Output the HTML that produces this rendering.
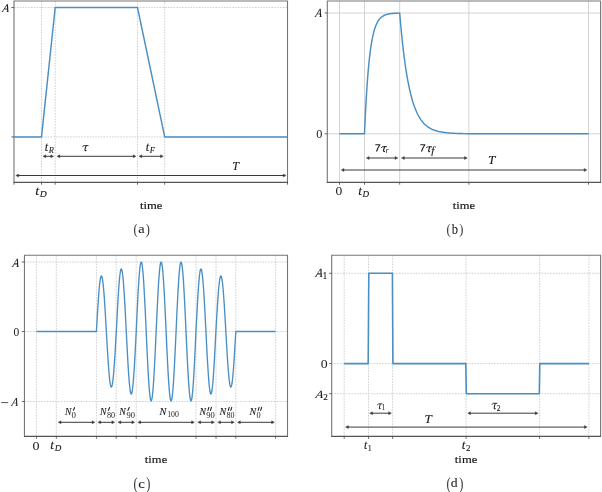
<!DOCTYPE html>
<html><head><meta charset="utf-8"><style>
html,body{margin:0;padding:0;background:#fff;width:602px;height:492px;overflow:hidden;}
svg{display:block;will-change:transform;}
text{font-family:"Liberation Serif",serif;stroke:#1a1a1a;stroke-width:0.12px;} text.thin{stroke-width:0;fill:#333;} text.mid{stroke-width:0.06px;} text.bold{stroke-width:0.2px;} text.b7{stroke-width:0.5px;} text.lt{stroke-width:0px;} text.la{stroke-width:0.1px;}
</style></head><body>
<svg width="602" height="492" viewBox="0 0 602 492">
<line x1="41.5" y1="1" x2="41.5" y2="182.3" stroke="#c4c4c4" stroke-width="0.8" stroke-dasharray="1.6 1.2"/>
<line x1="55.2" y1="1" x2="55.2" y2="182.3" stroke="#c4c4c4" stroke-width="0.8" stroke-dasharray="1.6 1.2"/>
<line x1="137.5" y1="1" x2="137.5" y2="182.3" stroke="#c4c4c4" stroke-width="0.8" stroke-dasharray="1.6 1.2"/>
<line x1="164.7" y1="1" x2="164.7" y2="182.3" stroke="#c4c4c4" stroke-width="0.8" stroke-dasharray="1.6 1.2"/>
<line x1="14" y1="7.5" x2="287.5" y2="7.5" stroke="#c4c4c4" stroke-width="0.8" stroke-dasharray="1.6 1.2"/>
<line x1="14" y1="136.9" x2="287.5" y2="136.9" stroke="#c4c4c4" stroke-width="0.8" stroke-dasharray="1.6 1.2"/>
<path d="M14,182.3 L14,1 L287.5,1 L287.5,182.3" fill="none" stroke="#767676" stroke-width="1.1"/>
<line x1="13.5" y1="182.3" x2="288.0" y2="182.3" stroke="#555" stroke-width="1.3" />
<line x1="11.4" y1="7.5" x2="14" y2="7.5" stroke="#555" stroke-width="0.9" />
<line x1="11.4" y1="136.9" x2="14" y2="136.9" stroke="#555" stroke-width="0.9" />
<line x1="14" y1="182.3" x2="14" y2="184.70000000000002" stroke="#555" stroke-width="0.9" />
<line x1="41.5" y1="182.3" x2="41.5" y2="184.70000000000002" stroke="#555" stroke-width="0.9" />
<line x1="55.2" y1="182.3" x2="55.2" y2="184.70000000000002" stroke="#555" stroke-width="0.9" />
<line x1="137.5" y1="182.3" x2="137.5" y2="184.70000000000002" stroke="#555" stroke-width="0.9" />
<line x1="164.7" y1="182.3" x2="164.7" y2="184.70000000000002" stroke="#555" stroke-width="0.9" />
<line x1="287.5" y1="182.3" x2="287.5" y2="184.70000000000002" stroke="#555" stroke-width="0.9" />
<polyline points="14.00,136.90 41.50,136.90 55.20,7.50 137.50,7.50 164.70,136.90 287.50,136.90" fill="none" stroke="#4a8fc4" stroke-width="1.45" stroke-linejoin="round"/>
<line x1="44.68" y1="156.3" x2="51.92" y2="156.3" stroke="#3a3a3a" stroke-width="1.0" />
<path d="M43,156.3 L45.8,154.8 L45.8,157.8 Z" fill="#3a3a3a" stroke="#3a3a3a" stroke-width="0.4"/>
<path d="M53.6,156.3 L50.800000000000004,154.8 L50.800000000000004,157.8 Z" fill="#3a3a3a" stroke="#3a3a3a" stroke-width="0.4"/>
<line x1="58.68" y1="156.3" x2="134.32" y2="156.3" stroke="#3a3a3a" stroke-width="1.0" />
<path d="M57,156.3 L59.8,154.8 L59.8,157.8 Z" fill="#3a3a3a" stroke="#3a3a3a" stroke-width="0.4"/>
<path d="M136,156.3 L133.2,154.8 L133.2,157.8 Z" fill="#3a3a3a" stroke="#3a3a3a" stroke-width="0.4"/>
<line x1="140.68" y1="156.3" x2="161.62" y2="156.3" stroke="#3a3a3a" stroke-width="1.0" />
<path d="M139,156.3 L141.8,154.8 L141.8,157.8 Z" fill="#3a3a3a" stroke="#3a3a3a" stroke-width="0.4"/>
<path d="M163.3,156.3 L160.5,154.8 L160.5,157.8 Z" fill="#3a3a3a" stroke="#3a3a3a" stroke-width="0.4"/>
<line x1="17.48" y1="175.5" x2="284.32" y2="175.5" stroke="#3a3a3a" stroke-width="1.0" />
<path d="M15.8,175.5 L18.6,174.0 L18.6,177.0 Z" fill="#3a3a3a" stroke="#3a3a3a" stroke-width="0.4"/>
<path d="M286,175.5 L283.2,174.0 L283.2,177.0 Z" fill="#3a3a3a" stroke="#3a3a3a" stroke-width="0.4"/>
<line x1="339.5" y1="1" x2="339.5" y2="182.3" stroke="#cfcfcf" stroke-width="0.9" />
<line x1="364.5" y1="1" x2="364.5" y2="182.3" stroke="#cfcfcf" stroke-width="0.9" />
<line x1="399.7" y1="1" x2="399.7" y2="182.3" stroke="#cfcfcf" stroke-width="0.9" />
<line x1="468.9" y1="1" x2="468.9" y2="182.3" stroke="#cfcfcf" stroke-width="0.9" />
<line x1="588.5" y1="1" x2="588.5" y2="182.3" stroke="#cfcfcf" stroke-width="0.9" />
<line x1="327.3" y1="13" x2="600.6" y2="13" stroke="#cfcfcf" stroke-width="0.9" />
<line x1="327.3" y1="133.8" x2="600.6" y2="133.8" stroke="#cfcfcf" stroke-width="0.9" />
<path d="M327.3,182.3 L327.3,1 L600.6,1 L600.6,182.3" fill="none" stroke="#767676" stroke-width="1.1"/>
<line x1="326.8" y1="182.3" x2="601.1" y2="182.3" stroke="#555" stroke-width="1.3" />
<line x1="324.7" y1="13" x2="327.3" y2="13" stroke="#555" stroke-width="0.9" />
<line x1="324.7" y1="133.8" x2="327.3" y2="133.8" stroke="#555" stroke-width="0.9" />
<line x1="339.5" y1="182.3" x2="339.5" y2="184.70000000000002" stroke="#555" stroke-width="0.9" />
<line x1="364.5" y1="182.3" x2="364.5" y2="184.70000000000002" stroke="#555" stroke-width="0.9" />
<line x1="399.7" y1="182.3" x2="399.7" y2="184.70000000000002" stroke="#555" stroke-width="0.9" />
<line x1="468.9" y1="182.3" x2="468.9" y2="184.70000000000002" stroke="#555" stroke-width="0.9" />
<line x1="588.5" y1="182.3" x2="588.5" y2="184.70000000000002" stroke="#555" stroke-width="0.9" />
<polyline points="339.50,133.80 364.50,133.80 365.00,122.37 365.50,112.02 366.00,102.64 366.50,94.16 367.00,86.48 367.50,79.52 368.00,73.23 368.50,67.53 369.00,62.37 369.50,57.69 370.00,53.46 370.50,49.63 371.00,46.17 371.50,43.03 372.00,40.18 372.50,37.61 373.00,35.28 373.50,33.17 374.00,31.26 374.50,29.54 375.00,27.97 375.50,26.55 376.00,25.27 376.50,24.11 377.00,23.06 377.50,22.11 378.00,21.24 378.50,20.46 379.00,19.76 379.50,19.12 380.00,18.54 380.50,18.01 381.00,17.54 381.50,17.11 382.00,16.72 382.50,16.37 383.00,16.05 383.50,15.76 384.00,15.50 384.50,15.26 385.00,15.05 385.50,14.86 386.00,14.68 386.50,14.52 387.00,14.38 387.50,14.25 388.00,14.13 388.50,14.02 389.00,13.92 389.50,13.84 390.00,13.76 390.50,13.69 391.00,13.62 391.50,13.56 392.00,13.51 392.50,13.46 393.00,13.42 393.50,13.38 394.00,13.34 394.50,13.31 395.00,13.28 395.50,13.25 396.00,13.23 396.50,13.21 397.00,13.19 397.50,13.17 398.00,13.15 398.50,13.14 399.00,13.13 399.50,13.11 399.70,13.11 400.20,19.06 400.70,24.72 401.20,30.10 401.70,35.22 402.20,40.08 402.70,44.70 403.20,49.09 403.70,53.27 404.20,57.24 404.70,61.02 405.20,64.61 405.70,68.02 406.20,71.27 406.70,74.35 407.20,77.28 407.70,80.07 408.20,82.72 408.70,85.24 409.20,87.63 409.70,89.91 410.20,92.08 410.70,94.13 411.20,96.09 411.70,97.95 412.20,99.72 412.70,101.40 413.20,103.00 413.70,104.52 414.20,105.96 414.70,107.33 415.20,108.64 415.70,109.88 416.20,111.06 416.70,112.18 417.20,113.25 417.70,114.26 418.20,115.22 418.70,116.14 419.20,117.01 419.70,117.84 420.20,118.63 420.70,119.38 421.20,120.09 421.70,120.76 422.20,121.41 422.70,122.02 423.20,122.60 423.70,123.15 424.20,123.68 424.70,124.18 425.20,124.65 425.70,125.10 426.20,125.53 426.70,125.94 427.20,126.33 427.70,126.69 428.20,127.05 428.70,127.38 429.20,127.69 429.70,128.00 430.20,128.28 430.70,128.55 431.20,128.81 431.70,129.06 432.20,129.29 432.70,129.52 433.20,129.73 433.70,129.93 434.20,130.12 434.70,130.30 435.20,130.47 435.70,130.64 436.20,130.79 436.70,130.94 437.20,131.08 437.70,131.22 438.20,131.34 438.70,131.46 439.20,131.58 439.70,131.69 440.20,131.79 440.70,131.89 441.20,131.99 441.70,132.08 442.20,132.16 442.70,132.24 443.20,132.32 443.70,132.39 444.20,132.46 444.70,132.53 445.20,132.59 445.70,132.65 446.20,132.71 446.70,132.76 447.20,132.81 447.70,132.86 448.20,132.91 448.70,132.95 449.20,132.99 449.70,133.03 450.20,133.07 450.70,133.11 451.20,133.14 451.70,133.17 452.20,133.20 452.70,133.23 453.20,133.26 453.70,133.29 454.20,133.31 454.70,133.34 455.20,133.36 455.70,133.38 456.20,133.40 456.70,133.42 457.20,133.44 457.70,133.46 458.20,133.48 458.70,133.49 459.20,133.51 459.70,133.52 460.20,133.53 460.70,133.55 461.20,133.56 461.70,133.57 462.20,133.58 462.70,133.59 463.20,133.60 463.70,133.61 464.20,133.62 464.70,133.63 465.20,133.64 465.70,133.65 466.20,133.66 466.70,133.66 467.20,133.67 467.70,133.68 468.20,133.68 468.70,133.69 469.20,133.69 469.70,133.70 470.20,133.70 470.70,133.71 471.20,133.71 471.70,133.72 472.20,133.72 472.70,133.73 473.20,133.73 473.70,133.73 474.20,133.74 474.70,133.74 475.20,133.74 475.70,133.74 476.20,133.75 476.70,133.75 477.20,133.75 477.70,133.75 478.20,133.76 478.70,133.76 479.20,133.76 479.70,133.76 480.20,133.76 480.70,133.77 481.20,133.77 481.70,133.77 482.20,133.77 482.70,133.77 483.20,133.77 483.70,133.78 484.20,133.78 484.70,133.78 485.20,133.78 485.70,133.78 486.20,133.78 486.70,133.78 487.20,133.78 487.70,133.78 488.20,133.78 488.70,133.79 489.20,133.79 489.70,133.79 490.20,133.79 490.70,133.79 491.20,133.79 491.70,133.79 492.20,133.79 492.70,133.79 493.20,133.79 493.70,133.79 494.20,133.79 494.70,133.79 495.20,133.79 495.70,133.79 496.20,133.79 496.70,133.79 497.20,133.79 497.70,133.79 498.20,133.79 498.70,133.79 499.20,133.79 499.70,133.80 500.20,133.80 500.70,133.80 501.20,133.80 501.70,133.80 502.20,133.80 502.70,133.80 503.20,133.80 503.70,133.80 504.20,133.80 504.70,133.80 505.20,133.80 505.70,133.80 506.20,133.80 506.70,133.80 507.20,133.80 507.70,133.80 508.20,133.80 508.70,133.80 509.20,133.80 509.70,133.80 510.20,133.80 510.70,133.80 511.20,133.80 511.70,133.80 512.20,133.80 512.70,133.80 513.20,133.80 513.70,133.80 514.20,133.80 514.70,133.80 515.20,133.80 515.70,133.80 516.20,133.80 516.70,133.80 517.20,133.80 517.70,133.80 518.20,133.80 518.70,133.80 519.20,133.80 519.70,133.80 520.20,133.80 520.70,133.80 521.20,133.80 521.70,133.80 522.20,133.80 522.70,133.80 523.20,133.80 523.70,133.80 524.20,133.80 524.70,133.80 525.20,133.80 525.70,133.80 526.20,133.80 526.70,133.80 527.20,133.80 527.70,133.80 528.20,133.80 528.70,133.80 529.20,133.80 529.70,133.80 530.20,133.80 530.70,133.80 531.20,133.80 531.70,133.80 532.20,133.80 532.70,133.80 533.20,133.80 533.70,133.80 534.20,133.80 534.70,133.80 535.20,133.80 535.70,133.80 536.20,133.80 536.70,133.80 537.20,133.80 537.70,133.80 538.20,133.80 538.70,133.80 539.20,133.80 539.70,133.80 540.20,133.80 540.70,133.80 541.20,133.80 541.70,133.80 542.20,133.80 542.70,133.80 543.20,133.80 543.70,133.80 544.20,133.80 544.70,133.80 545.20,133.80 545.70,133.80 546.20,133.80 546.70,133.80 547.20,133.80 547.70,133.80 548.20,133.80 548.70,133.80 549.20,133.80 549.70,133.80 550.20,133.80 550.70,133.80 551.20,133.80 551.70,133.80 552.20,133.80 552.70,133.80 553.20,133.80 553.70,133.80 554.20,133.80 554.70,133.80 555.20,133.80 555.70,133.80 556.20,133.80 556.70,133.80 557.20,133.80 557.70,133.80 558.20,133.80 558.70,133.80 559.20,133.80 559.70,133.80 560.20,133.80 560.70,133.80 561.20,133.80 561.70,133.80 562.20,133.80 562.70,133.80 563.20,133.80 563.70,133.80 564.20,133.80 564.70,133.80 565.20,133.80 565.70,133.80 566.20,133.80 566.70,133.80 567.20,133.80 567.70,133.80 568.20,133.80 568.70,133.80 569.20,133.80 569.70,133.80 570.20,133.80 570.70,133.80 571.20,133.80 571.70,133.80 572.20,133.80 572.70,133.80 573.20,133.80 573.70,133.80 574.20,133.80 574.70,133.80 575.20,133.80 575.70,133.80 576.20,133.80 576.70,133.80 577.20,133.80 577.70,133.80 578.20,133.80 578.70,133.80 579.20,133.80 579.70,133.80 580.20,133.80 580.70,133.80 581.20,133.80 581.70,133.80 582.20,133.80 582.70,133.80 583.20,133.80 583.70,133.80 584.20,133.80 584.70,133.80 585.20,133.80 585.70,133.80 586.20,133.80 586.70,133.80 587.20,133.80 587.70,133.80 588.20,133.80 588.70,133.80" fill="none" stroke="#4a8fc4" stroke-width="1.45" stroke-linejoin="round"/>
<line x1="367.98" y1="158" x2="396.21999999999997" y2="158" stroke="#3a3a3a" stroke-width="1.0" />
<path d="M366.3,158 L369.1,156.5 L369.1,159.5 Z" fill="#3a3a3a" stroke="#3a3a3a" stroke-width="0.4"/>
<path d="M397.9,158 L395.09999999999997,156.5 L395.09999999999997,159.5 Z" fill="#3a3a3a" stroke="#3a3a3a" stroke-width="0.4"/>
<line x1="403.18" y1="158" x2="465.62" y2="158" stroke="#3a3a3a" stroke-width="1.0" />
<path d="M401.5,158 L404.3,156.5 L404.3,159.5 Z" fill="#3a3a3a" stroke="#3a3a3a" stroke-width="0.4"/>
<path d="M467.3,158 L464.5,156.5 L464.5,159.5 Z" fill="#3a3a3a" stroke="#3a3a3a" stroke-width="0.4"/>
<line x1="342.88" y1="170" x2="585.22" y2="170" stroke="#3a3a3a" stroke-width="1.0" />
<path d="M341.2,170 L344.0,168.5 L344.0,171.5 Z" fill="#3a3a3a" stroke="#3a3a3a" stroke-width="0.4"/>
<path d="M586.9,170 L584.1,168.5 L584.1,171.5 Z" fill="#3a3a3a" stroke="#3a3a3a" stroke-width="0.4"/>
<path d="M375.3,144.75 L379.90000000000003,144.75 Q377.8,147.6 376.5,151.5" fill="none" stroke="#222" stroke-width="1.15" stroke-linejoin="round"/>
<path d="M381.20,148.06 C381.65,146.96 382.32,146.63 383.33,146.63 L386.80,146.63" fill="none" stroke="#1a1a1a" stroke-width="1.0"/><path d="M384.56,146.74 C384.11,148.50 383.55,149.71 383.55,150.81 C383.55,151.69 384.28,151.80 384.90,151.25" fill="none" stroke="#1a1a1a" stroke-width="1.15"/>
<path d="M420.3,144.75 L424.90000000000003,144.75 Q422.8,147.6 421.5,151.5" fill="none" stroke="#222" stroke-width="1.15" stroke-linejoin="round"/>
<path d="M426.20,148.23 C426.66,147.15 427.36,146.82 428.40,146.82 L432.00,146.82" fill="none" stroke="#1a1a1a" stroke-width="1.0"/><path d="M429.68,146.93 C429.22,148.66 428.64,149.85 428.64,150.93 C428.64,151.79 429.39,151.90 430.03,151.36" fill="none" stroke="#1a1a1a" stroke-width="1.15"/>
<line x1="36.4" y1="255.3" x2="36.4" y2="436.3" stroke="#c4c4c4" stroke-width="0.8" stroke-dasharray="1.6 1.2"/>
<line x1="56.3" y1="255.3" x2="56.3" y2="436.3" stroke="#c4c4c4" stroke-width="0.8" stroke-dasharray="1.6 1.2"/>
<line x1="96.4" y1="255.3" x2="96.4" y2="436.3" stroke="#c4c4c4" stroke-width="0.8" stroke-dasharray="1.6 1.2"/>
<line x1="116.2" y1="255.3" x2="116.2" y2="436.3" stroke="#c4c4c4" stroke-width="0.8" stroke-dasharray="1.6 1.2"/>
<line x1="136.2" y1="255.3" x2="136.2" y2="436.3" stroke="#c4c4c4" stroke-width="0.8" stroke-dasharray="1.6 1.2"/>
<line x1="196" y1="255.3" x2="196" y2="436.3" stroke="#c4c4c4" stroke-width="0.8" stroke-dasharray="1.6 1.2"/>
<line x1="216" y1="255.3" x2="216" y2="436.3" stroke="#c4c4c4" stroke-width="0.8" stroke-dasharray="1.6 1.2"/>
<line x1="235.8" y1="255.3" x2="235.8" y2="436.3" stroke="#c4c4c4" stroke-width="0.8" stroke-dasharray="1.6 1.2"/>
<line x1="275.6" y1="255.3" x2="275.6" y2="436.3" stroke="#c4c4c4" stroke-width="0.8" stroke-dasharray="1.6 1.2"/>
<line x1="24.45" y1="262" x2="287.5" y2="262" stroke="#c4c4c4" stroke-width="0.8" stroke-dasharray="1.6 1.2"/>
<line x1="24.45" y1="331.5" x2="287.5" y2="331.5" stroke="#c4c4c4" stroke-width="0.8" stroke-dasharray="1.6 1.2"/>
<line x1="24.45" y1="401.5" x2="287.5" y2="401.5" stroke="#c4c4c4" stroke-width="0.8" stroke-dasharray="1.6 1.2"/>
<path d="M24.45,436.3 L24.45,255.3 L287.5,255.3 L287.5,436.3" fill="none" stroke="#767676" stroke-width="1.1"/>
<line x1="23.95" y1="436.3" x2="288.0" y2="436.3" stroke="#555" stroke-width="1.3" />
<line x1="21.849999999999998" y1="262" x2="24.45" y2="262" stroke="#555" stroke-width="0.9" />
<line x1="21.849999999999998" y1="331.5" x2="24.45" y2="331.5" stroke="#555" stroke-width="0.9" />
<line x1="21.849999999999998" y1="401.5" x2="24.45" y2="401.5" stroke="#555" stroke-width="0.9" />
<line x1="36.4" y1="436.3" x2="36.4" y2="438.7" stroke="#555" stroke-width="0.9" />
<line x1="56.3" y1="436.3" x2="56.3" y2="438.7" stroke="#555" stroke-width="0.9" />
<line x1="96.4" y1="436.3" x2="96.4" y2="438.7" stroke="#555" stroke-width="0.9" />
<line x1="116.2" y1="436.3" x2="116.2" y2="438.7" stroke="#555" stroke-width="0.9" />
<line x1="136.2" y1="436.3" x2="136.2" y2="438.7" stroke="#555" stroke-width="0.9" />
<line x1="196" y1="436.3" x2="196" y2="438.7" stroke="#555" stroke-width="0.9" />
<line x1="216" y1="436.3" x2="216" y2="438.7" stroke="#555" stroke-width="0.9" />
<line x1="235.8" y1="436.3" x2="235.8" y2="438.7" stroke="#555" stroke-width="0.9" />
<line x1="275.6" y1="436.3" x2="275.6" y2="438.7" stroke="#555" stroke-width="0.9" />
<polyline points="36.40,331.50 96.40,331.50 96.90,322.80 97.40,314.32 97.89,306.26 98.39,298.82 98.89,292.18 99.39,286.52 99.89,281.96 100.38,278.62 100.88,276.58 101.38,275.90 101.88,276.58 102.37,278.62 102.87,281.96 103.37,286.52 103.87,292.18 104.37,298.82 104.86,306.26 105.36,314.32 105.86,322.80 106.36,331.50 106.86,340.20 107.35,348.68 107.85,356.74 108.35,364.18 108.85,370.82 109.34,376.48 109.84,381.04 110.34,384.38 110.84,386.42 111.34,387.10 111.83,386.42 112.33,384.38 112.83,381.04 113.33,376.48 113.83,370.82 114.32,364.18 114.82,356.74 115.32,348.68 115.82,340.20 116.31,331.50 116.81,321.72 117.31,312.17 117.81,303.10 118.31,294.73 118.80,287.27 119.30,280.90 119.80,275.77 120.30,272.01 120.80,269.72 121.29,268.95 121.79,269.72 122.29,272.01 122.79,275.77 123.28,280.90 123.78,287.27 124.28,294.73 124.78,303.10 125.28,312.17 125.77,321.72 126.27,331.50 126.77,341.28 127.27,350.83 127.77,359.90 128.26,368.27 128.76,375.73 129.26,382.10 129.76,387.23 130.25,390.99 130.75,393.28 131.25,394.05 131.75,393.28 132.25,390.99 132.74,387.23 133.24,382.10 133.74,375.73 134.24,368.27 134.74,359.90 135.23,350.83 135.73,341.28 136.23,331.50 136.73,320.63 137.22,310.02 137.72,299.95 138.22,290.65 138.72,282.36 139.22,275.27 139.71,269.58 140.21,265.40 140.71,262.86 141.21,262.00 141.71,262.86 142.20,265.40 142.70,269.58 143.20,275.27 143.70,282.36 144.19,290.65 144.69,299.95 145.19,310.02 145.69,320.63 146.19,331.50 146.68,342.37 147.18,352.98 147.68,363.05 148.18,372.35 148.68,380.64 149.17,387.73 149.67,393.42 150.17,397.60 150.67,400.14 151.16,401.00 151.66,400.14 152.16,397.60 152.66,393.42 153.16,387.73 153.65,380.64 154.15,372.35 154.65,363.05 155.15,352.98 155.65,342.37 156.14,331.50 156.64,320.63 157.14,310.02 157.64,299.95 158.13,290.65 158.63,282.36 159.13,275.27 159.63,269.58 160.13,265.40 160.62,262.86 161.12,262.00 161.62,262.86 162.12,265.40 162.62,269.58 163.11,275.27 163.61,282.36 164.11,290.65 164.61,299.95 165.10,310.02 165.60,320.63 166.10,331.50 166.60,342.37 167.10,352.98 167.59,363.05 168.09,372.35 168.59,380.64 169.09,387.73 169.59,393.42 170.08,397.60 170.58,400.14 171.08,401.00 171.58,400.14 172.07,397.60 172.57,393.42 173.07,387.73 173.57,380.64 174.07,372.35 174.56,363.05 175.06,352.98 175.56,342.37 176.06,331.50 176.56,320.63 177.05,310.02 177.55,299.95 178.05,290.65 178.55,282.36 179.04,275.27 179.54,269.58 180.04,265.40 180.54,262.86 181.04,262.00 181.53,262.86 182.03,265.40 182.53,269.58 183.03,275.27 183.53,282.36 184.02,290.65 184.52,299.95 185.02,310.02 185.52,320.63 186.01,331.50 186.51,342.37 187.01,352.98 187.51,363.05 188.01,372.35 188.50,380.64 189.00,387.73 189.50,393.42 190.00,397.60 190.50,400.14 190.99,401.00 191.49,400.14 191.99,397.60 192.49,393.42 192.98,387.73 193.48,380.64 193.98,372.35 194.48,363.05 194.98,352.98 195.47,342.37 195.97,331.50 196.47,321.72 196.97,312.17 197.47,303.10 197.96,294.73 198.46,287.27 198.96,280.90 199.46,275.77 199.95,272.01 200.45,269.72 200.95,268.95 201.45,269.72 201.95,272.01 202.44,275.77 202.94,280.90 203.44,287.27 203.94,294.73 204.44,303.10 204.93,312.17 205.43,321.72 205.93,331.50 206.43,341.28 206.92,350.83 207.42,359.90 207.92,368.27 208.42,375.73 208.92,382.10 209.41,387.23 209.91,390.99 210.41,393.28 210.91,394.05 211.41,393.28 211.90,390.99 212.40,387.23 212.90,382.10 213.40,375.73 213.89,368.27 214.39,359.90 214.89,350.83 215.39,341.28 215.89,331.50 216.38,322.80 216.88,314.32 217.38,306.26 217.88,298.82 218.38,292.18 218.87,286.52 219.37,281.96 219.87,278.62 220.37,276.58 220.86,275.90 221.36,276.58 221.86,278.62 222.36,281.96 222.86,286.52 223.35,292.18 223.85,298.82 224.35,306.26 224.85,314.32 225.34,322.80 225.84,331.50 226.34,340.20 226.84,348.68 227.34,356.74 227.83,364.18 228.33,370.82 228.83,376.48 229.33,381.04 229.83,384.38 230.32,386.42 230.82,387.10 231.32,386.42 231.82,384.38 232.32,381.04 232.81,376.48 233.31,370.82 233.81,364.18 234.31,356.74 234.80,348.68 235.30,340.20 235.80,331.50 275.60,331.50" fill="none" stroke="#4a8fc4" stroke-width="1.35" stroke-linejoin="round"/>
<line x1="59.88" y1="422.3" x2="93.22" y2="422.3" stroke="#3a3a3a" stroke-width="1.0" />
<path d="M58.2,422.3 L61.0,420.8 L61.0,423.8 Z" fill="#3a3a3a" stroke="#3a3a3a" stroke-width="0.4"/>
<path d="M94.9,422.3 L92.10000000000001,420.8 L92.10000000000001,423.8 Z" fill="#3a3a3a" stroke="#3a3a3a" stroke-width="0.4"/>
<line x1="99.58000000000001" y1="422.3" x2="113.02" y2="422.3" stroke="#3a3a3a" stroke-width="1.0" />
<path d="M97.9,422.3 L100.7,420.8 L100.7,423.8 Z" fill="#3a3a3a" stroke="#3a3a3a" stroke-width="0.4"/>
<path d="M114.7,422.3 L111.9,420.8 L111.9,423.8 Z" fill="#3a3a3a" stroke="#3a3a3a" stroke-width="0.4"/>
<line x1="119.68" y1="422.3" x2="133.01999999999998" y2="422.3" stroke="#3a3a3a" stroke-width="1.0" />
<path d="M118,422.3 L120.8,420.8 L120.8,423.8 Z" fill="#3a3a3a" stroke="#3a3a3a" stroke-width="0.4"/>
<path d="M134.7,422.3 L131.89999999999998,420.8 L131.89999999999998,423.8 Z" fill="#3a3a3a" stroke="#3a3a3a" stroke-width="0.4"/>
<line x1="139.48000000000002" y1="422.3" x2="192.72" y2="422.3" stroke="#3a3a3a" stroke-width="1.0" />
<path d="M137.8,422.3 L140.60000000000002,420.8 L140.60000000000002,423.8 Z" fill="#3a3a3a" stroke="#3a3a3a" stroke-width="0.4"/>
<path d="M194.4,422.3 L191.6,420.8 L191.6,423.8 Z" fill="#3a3a3a" stroke="#3a3a3a" stroke-width="0.4"/>
<line x1="199.48000000000002" y1="422.3" x2="212.82" y2="422.3" stroke="#3a3a3a" stroke-width="1.0" />
<path d="M197.8,422.3 L200.60000000000002,420.8 L200.60000000000002,423.8 Z" fill="#3a3a3a" stroke="#3a3a3a" stroke-width="0.4"/>
<path d="M214.5,422.3 L211.7,420.8 L211.7,423.8 Z" fill="#3a3a3a" stroke="#3a3a3a" stroke-width="0.4"/>
<line x1="219.38" y1="422.3" x2="232.62" y2="422.3" stroke="#3a3a3a" stroke-width="1.0" />
<path d="M217.7,422.3 L220.5,420.8 L220.5,423.8 Z" fill="#3a3a3a" stroke="#3a3a3a" stroke-width="0.4"/>
<path d="M234.3,422.3 L231.5,420.8 L231.5,423.8 Z" fill="#3a3a3a" stroke="#3a3a3a" stroke-width="0.4"/>
<line x1="239.18" y1="422.3" x2="272.71999999999997" y2="422.3" stroke="#3a3a3a" stroke-width="1.0" />
<path d="M237.5,422.3 L240.3,420.8 L240.3,423.8 Z" fill="#3a3a3a" stroke="#3a3a3a" stroke-width="0.4"/>
<path d="M274.4,422.3 L271.59999999999997,420.8 L271.59999999999997,423.8 Z" fill="#3a3a3a" stroke="#3a3a3a" stroke-width="0.4"/>
<line x1="1.2" y1="402.6" x2="8.2" y2="402.6" stroke="#333" stroke-width="0.85" />
<path d="M74.65,407.60 L73.35,410.30" stroke="#1a1a1a" stroke-width="1.05" stroke-linecap="round" fill="none"/>
<path d="M109.65,407.50 L108.35,410.40" stroke="#1a1a1a" stroke-width="1.05" stroke-linecap="round" fill="none"/>
<path d="M129.25,407.50 L127.95,410.40" stroke="#1a1a1a" stroke-width="1.05" stroke-linecap="round" fill="none"/>
<path d="M208.91,407.30 L207.95,410.40" stroke="#1a1a1a" stroke-width="1.05" stroke-linecap="round" fill="none"/><path d="M211.45,407.30 L210.49,410.40" stroke="#1a1a1a" stroke-width="1.05" stroke-linecap="round" fill="none"/>
<path d="M229.21,407.30 L228.25,410.40" stroke="#1a1a1a" stroke-width="1.05" stroke-linecap="round" fill="none"/><path d="M231.75,407.30 L230.79,410.40" stroke="#1a1a1a" stroke-width="1.05" stroke-linecap="round" fill="none"/>
<path d="M259.11,407.30 L258.15,410.40" stroke="#1a1a1a" stroke-width="1.05" stroke-linecap="round" fill="none"/><path d="M261.65,407.30 L260.69,410.40" stroke="#1a1a1a" stroke-width="1.05" stroke-linecap="round" fill="none"/>
<line x1="344.2" y1="255.3" x2="344.2" y2="436.4" stroke="#c4c4c4" stroke-width="0.8" stroke-dasharray="1.6 1.2"/>
<line x1="368.5" y1="255.3" x2="368.5" y2="436.4" stroke="#c4c4c4" stroke-width="0.8" stroke-dasharray="1.6 1.2"/>
<line x1="392.6" y1="255.3" x2="392.6" y2="436.4" stroke="#c4c4c4" stroke-width="0.8" stroke-dasharray="1.6 1.2"/>
<line x1="466.1" y1="255.3" x2="466.1" y2="436.4" stroke="#c4c4c4" stroke-width="0.8" stroke-dasharray="1.6 1.2"/>
<line x1="539.6" y1="255.3" x2="539.6" y2="436.4" stroke="#c4c4c4" stroke-width="0.8" stroke-dasharray="1.6 1.2"/>
<line x1="588.9" y1="255.3" x2="588.9" y2="436.4" stroke="#c4c4c4" stroke-width="0.8" stroke-dasharray="1.6 1.2"/>
<line x1="331.7" y1="273.3" x2="600.6" y2="273.3" stroke="#c4c4c4" stroke-width="0.8" stroke-dasharray="1.6 1.2"/>
<line x1="331.7" y1="363.6" x2="600.6" y2="363.6" stroke="#c4c4c4" stroke-width="0.8" stroke-dasharray="1.6 1.2"/>
<line x1="331.7" y1="393.7" x2="600.6" y2="393.7" stroke="#c4c4c4" stroke-width="0.8" stroke-dasharray="1.6 1.2"/>
<path d="M331.7,436.4 L331.7,255.3 L600.6,255.3 L600.6,436.4" fill="none" stroke="#767676" stroke-width="1.1"/>
<line x1="331.2" y1="436.4" x2="601.1" y2="436.4" stroke="#555" stroke-width="1.3" />
<line x1="329.09999999999997" y1="273.3" x2="331.7" y2="273.3" stroke="#555" stroke-width="0.9" />
<line x1="329.09999999999997" y1="363.6" x2="331.7" y2="363.6" stroke="#555" stroke-width="0.9" />
<line x1="329.09999999999997" y1="393.7" x2="331.7" y2="393.7" stroke="#555" stroke-width="0.9" />
<line x1="344.2" y1="436.4" x2="344.2" y2="438.79999999999995" stroke="#555" stroke-width="0.9" />
<line x1="368.5" y1="436.4" x2="368.5" y2="438.79999999999995" stroke="#555" stroke-width="0.9" />
<line x1="392.6" y1="436.4" x2="392.6" y2="438.79999999999995" stroke="#555" stroke-width="0.9" />
<line x1="466.1" y1="436.4" x2="466.1" y2="438.79999999999995" stroke="#555" stroke-width="0.9" />
<line x1="539.6" y1="436.4" x2="539.6" y2="438.79999999999995" stroke="#555" stroke-width="0.9" />
<line x1="588.9" y1="436.4" x2="588.9" y2="438.79999999999995" stroke="#555" stroke-width="0.9" />
<polyline points="344.20,363.60 368.20,363.60 368.80,273.30 392.40,273.30 392.90,363.60 465.80,363.60 466.30,393.70 539.30,393.70 539.80,363.60 588.90,363.60" fill="none" stroke="#4a8fc4" stroke-width="1.6" stroke-linejoin="round"/>
<line x1="371.38" y1="413.2" x2="389.71999999999997" y2="413.2" stroke="#3a3a3a" stroke-width="1.0" />
<path d="M369.7,413.2 L372.5,411.7 L372.5,414.7 Z" fill="#3a3a3a" stroke="#3a3a3a" stroke-width="0.4"/>
<path d="M391.4,413.2 L388.59999999999997,411.7 L388.59999999999997,414.7 Z" fill="#3a3a3a" stroke="#3a3a3a" stroke-width="0.4"/>
<line x1="469.38" y1="413.2" x2="536.32" y2="413.2" stroke="#3a3a3a" stroke-width="1.0" />
<path d="M467.7,413.2 L470.5,411.7 L470.5,414.7 Z" fill="#3a3a3a" stroke="#3a3a3a" stroke-width="0.4"/>
<path d="M538,413.2 L535.2,411.7 L535.2,414.7 Z" fill="#3a3a3a" stroke="#3a3a3a" stroke-width="0.4"/>
<line x1="347.28000000000003" y1="427.1" x2="585.5200000000001" y2="427.1" stroke="#3a3a3a" stroke-width="1.0" />
<path d="M345.6,427.1 L348.40000000000003,425.6 L348.40000000000003,428.6 Z" fill="#3a3a3a" stroke="#3a3a3a" stroke-width="0.4"/>
<path d="M587.2,427.1 L584.4000000000001,425.6 L584.4000000000001,428.6 Z" fill="#3a3a3a" stroke="#3a3a3a" stroke-width="0.4"/>
<g fill="#1a1a1a">
<g id="a_A" class="lab" transform="matrix(0.9806,0,0,1.0133,0.955,0.200)"><text x="1" y="11.2" font-size="11.5" font-style="italic" text-anchor="start" class="la" transform="translate(1 11.2) skewX(-8) translate(-1 -11.2)">A</text></g>
<g id="a_tR" class="lab" transform="matrix(0.9829,0,0,1.0054,1.217,-1.432)"><text x="44.3" y="152" font-size="12.5" font-style="italic" text-anchor="start">t</text><text x="48.3" y="154.0" font-size="8.5" font-style="italic" text-anchor="start">R</text></g>
<g id="a_tau" class="lab" transform="matrix(0.9185,0,0,0.8690,7.111,19.317)"><path d="M82.00,147.04 C82.53,145.70 83.32,145.30 84.51,145.30 L88.60,145.30" fill="none" stroke="#1a1a1a" stroke-width="1.0"/><path d="M85.96,145.44 C85.43,147.58 84.77,149.05 84.77,150.39 C84.77,151.47 85.63,151.60 86.36,150.93" fill="none" stroke="#1a1a1a" stroke-width="1.15"/></g>
<g id="a_tF" class="lab" transform="matrix(0.9943,0,0,1.0270,0.786,-5.362)"><text x="145.8" y="152" font-size="12.5" font-style="italic" text-anchor="start">t</text><text x="149.8" y="154.0" font-size="8.5" font-style="italic" text-anchor="start">F</text></g>
<g id="a_T" class="lab" transform="matrix(0.9714,0,0,1.0303,6.514,-5.582)"><text x="232.5" y="170.9" font-size="12.5" font-style="italic" text-anchor="start">T</text></g>
<g id="a_tD" class="lab" transform="matrix(1.1368,0,0,0.9946,-5.595,0.370)"><text x="36" y="196" font-size="12.5" font-style="italic" text-anchor="start">t</text><text x="40.0" y="198.0" font-size="8.5" font-style="italic" text-anchor="start">D</text></g>
<g id="a_time" class="lab" transform="matrix(1.0279,0,0,0.8941,-4.007,21.459)"><text x="151" y="209.5" font-size="12.3" text-anchor="middle" class="bold">time</text></g>
<g id="a_capL" class="lab" transform="matrix(0.7500,0,0,0.9379,33.050,13.838)"><text x="134.1" y="235" font-size="16.5" text-anchor="start" class="thin">(</text></g>
<g id="a_capM" class="lab" transform="matrix(1.0364,0,0,0.8444,-5.414,36.011)"><text x="138.7" y="233.6" font-size="13.8" text-anchor="start" class="mid">a</text></g>
<g id="a_capR" class="lab" transform="matrix(0.7500,0,0,0.9379,36.225,13.838)"><text x="145.9" y="235" font-size="16.5" text-anchor="start" class="thin">)</text></g>
<g id="b_A" class="lab" transform="matrix(0.9548,0,0,1.0667,14.819,-1.267)"><text x="314.3" y="17.5" font-size="11.5" font-style="italic" text-anchor="start" class="la" transform="translate(314.3 17.5) skewX(-8) translate(-314.3 -17.5)">A</text></g>
<g id="b_0" class="lab" transform="matrix(1.0737,0,0,1.1067,-23.121,-14.920)"><text x="316" y="138" font-size="11.5" text-anchor="start" class="lt">0</text></g>
<g id="b_0x" class="lab" transform="matrix(1.1789,0,0,1.0933,-61.105,-18.347)"><text x="339.3" y="195.6" font-size="11.5" text-anchor="middle" class="lt">0</text></g>
<g id="b_tD" class="lab" transform="matrix(1.0769,0,0,0.9946,-27.546,0.968)"><text x="358.3" y="195.5" font-size="12.5" font-style="italic" text-anchor="start">t</text><text x="362.3" y="197.5" font-size="8.5" font-style="italic" text-anchor="start">D</text></g>
<g id="b_7tr_s" class="lab" transform="matrix(0.8308,0,0,0.9750,65.323,3.594)"><text x="385.8" y="153.7" font-size="8.5" font-style="italic" text-anchor="start">r</text></g>
<g id="b_7tf_s" class="lab" transform="matrix(1.2923,0,0,1.1375,-125.908,-21.988)"><text x="431.2" y="155" font-size="8.5" font-style="italic" text-anchor="start">f</text></g>
<g id="b_T" class="lab" transform="matrix(1.0571,0,0,0.9333,-28.243,10.700)"><text x="488.3" y="164.2" font-size="12.5" font-style="italic" text-anchor="start">T</text></g>
<g id="b_time" class="lab" transform="matrix(1.0233,0,0,0.9059,-10.835,19.291)"><text x="464" y="209.5" font-size="12.3" text-anchor="middle" class="bold">time</text></g>
<g id="b_capL" class="lab" transform="matrix(0.7500,0,0,0.9448,111.287,12.295)"><text x="446.9" y="235" font-size="16.5" text-anchor="start" class="thin">(</text></g>
<g id="b_capM" class="lab" transform="matrix(0.9120,0,0,0.9949,39.904,0.703)"><text x="451.7" y="234.2" font-size="13.8" text-anchor="start" class="mid">b</text></g>
<g id="b_capR" class="lab" transform="matrix(0.7500,0,0,0.9448,114.688,12.295)"><text x="459.3" y="235" font-size="16.5" text-anchor="start" class="thin">)</text></g>
<g id="c_A" class="lab" transform="matrix(0.9290,0,0,1.0933,1.713,-24.973)"><text x="11.4" y="266.6" font-size="11.5" font-style="italic" text-anchor="start" class="la" transform="translate(11.4 266.6) skewX(-8) translate(-11.4 -266.6)">A</text></g>
<g id="c_0" class="lab" transform="matrix(1.0000,0,0,1.1200,0.900,-40.240)"><text x="12.6" y="335.7" font-size="11.5" text-anchor="start" class="lt">0</text></g>
<g id="c_mA" class="lab" transform="matrix(0.9419,0,0,1.0533,2.123,-21.853)"><text x="9.6" y="406" font-size="11.5" font-style="italic" text-anchor="start" class="la" transform="translate(9.6 406) skewX(-8) translate(-9.6 -406)">A</text></g>
<g id="c_0x" class="lab" transform="matrix(1.2211,0,0,1.1600,-8.211,-72.020)"><text x="36.2" y="449.6" font-size="11.5" text-anchor="middle" class="lt">0</text></g>
<g id="c_tD" class="lab" transform="matrix(1.0667,0,0,0.9946,-3.600,2.341)"><text x="50.6" y="449.5" font-size="12.5" font-style="italic" text-anchor="start">t</text><text x="54.6" y="451.5" font-size="8.5" font-style="italic" text-anchor="start">D</text></g>
<g id="c_N0_N" class="lab" transform="matrix(0.7676,0,0,0.8606,15.384,57.633)"><text x="64.5" y="415.2" font-size="12.5" font-style="italic" text-anchor="start">N</text></g>
<g id="c_N0_s" class="lab" transform="matrix(0.9867,0,0,0.8833,0.713,48.604)"><text x="71.8" y="418.7" font-size="9" text-anchor="start" class="lt">0</text></g>
<g id="c_N80_N" class="lab" transform="matrix(0.7676,0,0,0.8727,23.519,52.718)"><text x="99.5" y="415.1" font-size="12.5" font-style="italic" text-anchor="start">N</text></g>
<g id="c_N80_s" class="lab" transform="matrix(0.9059,0,0,0.9500,10.044,20.825)"><text x="107" y="418.6" font-size="9" text-anchor="start" class="lt">80</text></g>
<g id="c_N90_N" class="lab" transform="matrix(0.7889,0,0,0.8727,25.422,52.718)"><text x="119.1" y="415.1" font-size="12.5" font-style="italic" text-anchor="start">N</text></g>
<g id="c_N90_s" class="lab" transform="matrix(0.9455,0,0,0.9500,6.727,20.825)"><text x="126.6" y="418.6" font-size="9" text-anchor="start" class="lt">90</text></g>
<g id="c_N100_N" class="lab" transform="matrix(0.8216,0,0,0.8848,28.762,47.545)"><text x="159.2" y="415.4" font-size="12.5" font-style="italic" text-anchor="start">N</text></g>
<g id="c_N100_s" class="lab" transform="matrix(0.8653,0,0,0.9333,22.096,27.633)"><text x="167.7" y="417.5" font-size="9" text-anchor="start" class="lt">100</text></g>
<g id="c_N90b_N" class="lab" transform="matrix(0.7784,0,0,0.8727,44.497,52.518)"><text x="199" y="414.9" font-size="12.5" font-style="italic" text-anchor="start">N</text></g>
<g id="c_N90b_s" class="lab" transform="matrix(0.9455,0,0,0.9333,11.127,27.733)"><text x="206.4" y="418.3" font-size="9" text-anchor="start" class="lt">90</text></g>
<g id="c_N80b_N" class="lab" transform="matrix(0.8000,0,0,0.8727,44.100,52.518)"><text x="219.3" y="414.9" font-size="12.5" font-style="italic" text-anchor="start">N</text></g>
<g id="c_N80b_s" class="lab" transform="matrix(0.8824,0,0,0.9333,26.626,27.733)"><text x="226.5" y="418.3" font-size="9" text-anchor="start" class="lt">80</text></g>
<g id="c_N0b_N" class="lab" transform="matrix(0.8000,0,0,0.8485,50.200,62.779)"><text x="249" y="415.1" font-size="12.5" font-style="italic" text-anchor="start">N</text></g>
<g id="c_N0b_s" class="lab" transform="matrix(0.9250,0,0,0.9000,19.206,41.750)"><text x="256.5" y="418.6" font-size="9" text-anchor="start" class="lt">0</text></g>
<g id="c_time" class="lab" transform="matrix(1.0233,0,0,0.9059,-3.572,43.097)"><text x="156" y="463.4" font-size="12.3" text-anchor="middle" class="bold">time</text></g>
<g id="c_capL" class="lab" transform="matrix(0.7500,0,0,0.9684,33.050,15.137)"><text x="134.1" y="489" font-size="16.5" text-anchor="start" class="thin">(</text></g>
<g id="c_capM" class="lab" transform="matrix(1.0857,0,0,0.8593,-12.214,68.252)"><text x="138.5" y="488.2" font-size="13.8" text-anchor="start" class="mid">c</text></g>
<g id="c_capR" class="lab" transform="matrix(0.7500,0,0,0.9684,36.350,15.137)"><text x="146.4" y="489" font-size="16.5" text-anchor="start" class="thin">)</text></g>
<g id="d_A1" class="lab" transform="matrix(1.0213,0,0,1.0947,-5.926,-27.026)"><text x="314.5" y="278" font-size="11.5" font-style="italic" text-anchor="start" class="la" transform="translate(314.5 278) skewX(-8) translate(-314.5 -278)">A</text><text x="321.8" y="280" font-size="8.5" text-anchor="start">1</text></g>
<g id="d_0" class="lab" transform="matrix(1.2000,0,0,1.0533,-64.300,-19.827)"><text x="320.8" y="368" font-size="11.5" text-anchor="start" class="lt">0</text></g>
<g id="d_A2" class="lab" transform="matrix(1.0809,0,0,0.9538,-24.687,18.600)"><text x="314.6" y="397.5" font-size="11.5" font-style="italic" text-anchor="start" class="la" transform="translate(314.6 397.5) skewX(-8) translate(-314.6 -397.5)">A</text><text x="321.9" y="399.8" font-size="8.5" text-anchor="start">2</text></g>
<g id="d_t1" class="lab" transform="matrix(0.9241,0,0,0.9684,27.421,14.200)"><text x="364.2" y="449" font-size="12.5" font-style="italic" text-anchor="start">t</text><text x="368.2" y="451.2" font-size="8.5" text-anchor="start">1</text></g>
<g id="d_t2" class="lab" transform="matrix(1.0533,0,0,0.9579,-24.803,19.250)"><text x="461.9" y="449" font-size="12.5" font-style="italic" text-anchor="start">t</text><text x="465.9" y="451.2" font-size="8.5" text-anchor="start">2</text></g>
<g id="d_tau1" class="lab" transform="matrix(0.7795,0,0,0.8750,83.913,50.675)"><path d="M376.50,405.18 C377.00,403.94 377.74,403.57 378.86,403.57 L382.70,403.57" fill="none" stroke="#1a1a1a" stroke-width="1.0"/><path d="M380.22,403.70 C379.72,405.68 379.10,407.04 379.10,408.28 C379.10,409.28 379.91,409.40 380.59,408.78" fill="none" stroke="#1a1a1a" stroke-width="1.15"/><text x="382" y="411" font-size="8.5" text-anchor="start">1</text></g>
<g id="d_tau2" class="lab" transform="matrix(0.8615,0,0,0.9529,69.231,19.341)"><path d="M490.60,404.58 C491.11,403.28 491.88,402.89 493.03,402.89 L497.00,402.89" fill="none" stroke="#1a1a1a" stroke-width="1.0"/><path d="M494.44,403.02 C493.93,405.10 493.29,406.53 493.29,407.83 C493.29,408.87 494.12,409.00 494.82,408.35" fill="none" stroke="#1a1a1a" stroke-width="1.15"/><text x="496.2" y="411" font-size="8.5" text-anchor="start">2</text></g>
<g id="d_T" class="lab" transform="matrix(1.0571,0,0,1.0424,-25.671,-18.345)"><text x="425.8" y="423" font-size="12.5" font-style="italic" text-anchor="start">T</text></g>
<g id="d_time" class="lab" transform="matrix(1.0279,0,0,0.9059,-12.898,43.097)"><text x="466" y="463.5" font-size="12.3" text-anchor="middle" class="bold">time</text></g>
<g id="d_capL" class="lab" transform="matrix(0.7500,0,0,0.9684,111.375,15.137)"><text x="446.8" y="489" font-size="16.5" text-anchor="start" class="thin">(</text></g>
<g id="d_capM" class="lab" transform="matrix(0.9920,0,0,0.9436,3.264,27.128)"><text x="451.2" y="487.8" font-size="13.8" text-anchor="start" class="mid">d</text></g>
<g id="d_capR" class="lab" transform="matrix(0.7529,0,0,0.9684,113.335,15.137)"><text x="459.3" y="489" font-size="16.5" text-anchor="start" class="thin">)</text></g>
</g>
</svg></body></html>
